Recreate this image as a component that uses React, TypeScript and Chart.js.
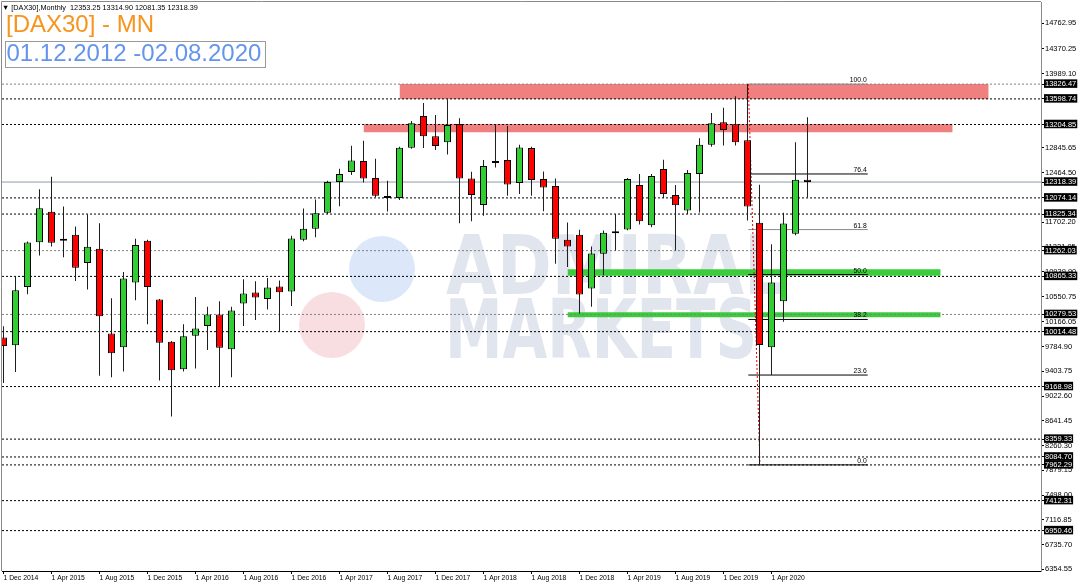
import React, { useEffect, useRef } from "react";
import { Chart, registerables } from "chart.js";

Chart.register(...registerables);

// ---- Data (monthly candles, index 0 = Dec 2014) ----
const opens = [
  9926, 9804, 10702, 11393, 11859, 11414, 11506, 11071, 11291, 9987, 9773, 10770,
  11414, 10509, 9859, 9435, 9951, 10100, 10279, 9742, 10448, 10616, 10518, 10709,
  10632, 11429, 11598, 11844, 12319, 12473, 12641, 12381, 12104, 12074, 12845, 13336,
  13025, 12933, 13214, 12374, 11966, 12611, 12657, 12304, 12841, 12365, 12258, 11430,
  11506, 10678, 11215, 11531, 11588, 12273, 11653, 12519, 12120, 11879, 12442, 12891,
  13239, 13209, 12963, 11690, 9773, 10483, 11521, 12353.25,
];
const highs = [
  10099, 10866, 11403, 12206, 12400, 11940, 11634, 11818, 11684, 10529, 10932, 11445,
  11430, 10518, 9870, 10130, 10549, 10396, 10483, 10396, 10821, 10790, 10841, 10801,
  11491, 11910, 12048, 12339, 12523, 12876, 12953, 12677, 12339, 12860, 13260, 13536,
  13352, 13592, 13301, 12477, 12657, 13209, 13183, 12891, 12860, 12482, 12374, 11695,
  11583, 11327, 11572, 11828, 12381, 12442, 12442, 12661, 12273, 12503, 12994, 13382,
  13464, 13639, 13826.47, 12278, 11359, 11844, 12933, 13314.9,
];
const lows = [
  9225, 9394, 10590, 11189, 11327, 11162, 10794, 10663, 9337, 9313, 9399, 10498,
  10130, 9261, 8708, 9399, 9445, 9731, 9168, 9313, 10100, 10192, 10356, 10023,
  10411, 11408, 11469, 11828, 11945, 12427, 12313, 12083, 11864, 12043, 12830, 12841,
  12810, 12743, 11684, 11715, 11798, 12543, 12109, 12135, 12109, 11868, 11061, 11009,
  10294, 10396, 10882, 11265, 11577, 11664, 11623, 12074, 11265, 11828, 11850, 12860,
  12881, 12881, 11725, 7962.29, 9348, 10166, 11500, 12081.35,
];
const closes = [
  9793, 10652, 11388, 11914, 11384, 11439, 11000, 11322, 10253, 9681, 10831, 11347,
  10702, 9843, 9420, 9942, 10064, 10279, 9767, 10340, 10601, 10540, 10693, 10621,
  11450, 11598, 11838, 12319, 12442, 12651, 12374, 12109, 12074, 12845, 13224, 13025,
  12872, 13198, 12374, 12120, 12564, 12641, 12282, 12850, 12350, 12236, 11445, 11327,
  10586, 11219, 11537, 11552, 12365, 11715, 12411, 12135, 11960, 12457, 12891, 13224,
  13121, 12933, 11940, 9808, 10770, 11680, 12354, 12318.39,
];

const xTickIndex = [0, 4, 8, 12, 16, 20, 24, 28, 32, 36, 40, 44, 48, 52, 56, 60, 64];
const xTickLabels = [
  "1 Dec 2014", "1 Apr 2015", "1 Aug 2015", "1 Dec 2015", "1 Apr 2016", "1 Aug 2016",
  "1 Dec 2016", "1 Apr 2017", "1 Aug 2017", "1 Dec 2017", "1 Apr 2018", "1 Aug 2018",
  "1 Dec 2018", "1 Apr 2019", "1 Aug 2019", "1 Dec 2019", "1 Apr 2020",
];

const yTickValues = [
  14762.95, 14370.25, 13989.1, 12845.65, 12464.5, 11702.2, 11321.05, 10939.9,
  10550.75, 10166.05, 9784.9, 9403.75, 9022.6, 8641.45, 8260.3, 7879.15, 7498.0,
  7116.85, 6735.7, 6354.55,
];
const priceLevels = [
  13826.47, 13598.74, 13204.85, 12074.14, 11825.34, 11262.03, 10865.33, 10279.53,
  10014.48, 9168.98, 8359.33, 8084.7, 7962.29, 7412.31, 6950.46,
];
const grayLevels = [13826.47, 11262.03, 10279.53];
const currentPrice = 12318.39;

const fibRatios = [100.0, 76.4, 61.8, 50.0, 38.2, 23.6, 0.0];
const fibHigh = 13826.47;
const fibLow = 7962.29;
const fibStartIdx = 62.07;
const fibEndIdx = 72.02;
const fibLowIdx = 63.04;

const zoneStart = [33, 30, 47, 47];
const zoneEnd = [82.1, 79.1, 78.1, 78.1];
const zoneTop = [13826.47, 13212, 10975, 10312];
const zoneBottom = [13598.74, 13085, 10874, 10235];

// ---- Axis bounds ----
const X_MIN = -0.125;
const X_MAX = 86.46;
const Y_MIN = 6328.4;
const Y_MAX = 15091;

const GREEN = "#32CD32";
const RED = "#FF0000";
const FONT = "'Liberation Sans', Arial, sans-serif";

const isPrice = (v: number) =>
  priceLevels.some((p) => Math.abs(p - v) < 0.001) || Math.abs(v - currentPrice) < 0.001;

const watermarkPlugin = {
  id: "watermark",
  beforeDatasetsDraw(chart: any) {
    const { ctx } = chart;
    ctx.save();
    ctx.fillStyle = "#DCE8F9";
    ctx.beginPath();
    ctx.arc(382, 269, 33, 0, Math.PI * 2);
    ctx.fill();
    ctx.fillStyle = "#F8DEE1";
    ctx.beginPath();
    ctx.arc(332, 325, 33, 0, Math.PI * 2);
    ctx.fill();
    ctx.fillStyle = "#E1E5EE";
    ctx.font = "bold 82px 'DejaVu Sans', sans-serif";
    ctx.textBaseline = "alphabetic";
    const drawFit = (t: string, x: number, y: number, w: number) => {
      const m = ctx.measureText(t).width;
      ctx.save();
      ctx.translate(x, y);
      ctx.scale(w / m, 1);
      ctx.fillText(t, 0, 0);
      ctx.restore();
    };
    drawFit("ADMIRAL", 446, 294, 340);
    drawFit("MARKETS", 445, 358, 312);
    ctx.restore();
  },
};

const fibLabelPlugin = {
  id: "fibLabels",
  afterDatasetsDraw(chart: any) {
    const { ctx, scales } = chart;
    ctx.save();
    ctx.font = `6.8px ${FONT}`;
    ctx.fillStyle = "#000";
    ctx.textAlign = "right";
    ctx.textBaseline = "alphabetic";
    const x = scales.x.getPixelForValue(fibEndIdx);
    fibRatios.forEach((r) => {
      const p = fibLow + ((fibHigh - fibLow) * r) / 100;
      const y = scales.y.getPixelForValue(p);
      ctx.fillText(r.toFixed(1), x - 1, y - 2);
    });
    ctx.restore();
  },
};

const framePlugin = {
  id: "frame",
  afterDraw(chart: any) {
    const { ctx, chartArea } = chart;
    ctx.save();
    ctx.strokeStyle = "#8a8a8a";
    ctx.lineWidth = 1;
    ctx.beginPath();
    ctx.moveTo(chartArea.left - 0.5, chartArea.bottom);
    ctx.lineTo(chartArea.left - 0.5, chartArea.top - 0.5);
    ctx.lineTo(chartArea.right, chartArea.top - 0.5);
    ctx.stroke();
    ctx.restore();
  },
};

export default function App() {
  const ref = useRef<HTMLCanvasElement | null>(null);

  useEffect(() => {
    document.body.style.margin = "0";
    if (!ref.current) return;

    const bodyColors = closes.map((c, i) => (c >= opens[i] ? GREEN : RED));

    const zoneSets = zoneStart.map((s, i) => ({
      type: "line",
      data: [
        { x: s, y: zoneTop[i] },
        { x: zoneEnd[i], y: zoneTop[i] },
      ],
      borderWidth: 0,
      borderColor: "rgba(0,0,0,0)",
      pointRadius: 0,
      fill: { value: zoneBottom[i] },
      backgroundColor: i < 2 ? "#F08080" : "rgb(58,204,58)",
      order: 20,
    }));

    const levelSets = priceLevels.map((v) => ({
      type: "line",
      data: [
        { x: X_MIN, y: v },
        { x: X_MAX, y: v },
      ],
      borderColor: grayLevels.includes(v) ? "#808080" : "#000",
      borderWidth: 1,
      borderDash: [2, 2],
      pointRadius: 0,
      fill: false,
      order: 15,
    }));

    const currentSet = {
      type: "line",
      data: [
        { x: X_MIN, y: currentPrice },
        { x: X_MAX, y: currentPrice },
      ],
      borderColor: "#8C9AAB",
      borderWidth: 1,
      pointRadius: 0,
      fill: false,
      order: 14,
    };

    const fibSets = fibRatios.map((r) => {
      const p = fibLow + ((fibHigh - fibLow) * r) / 100;
      return {
        type: "line",
        data: [
          { x: fibStartIdx, y: p },
          { x: fibEndIdx, y: p },
        ],
        borderColor: r === 100 || r === 61.8 ? "#8a8a8a" : "#000",
        borderWidth: 1,
        pointRadius: 0,
        fill: false,
        order: 12,
      };
    });

    const trendSet = {
      type: "line",
      data: [
        { x: fibStartIdx, y: fibHigh },
        { x: fibLowIdx, y: fibLow },
      ],
      borderColor: "#E00000",
      borderWidth: 1,
      borderDash: [2, 2],
      pointRadius: 0,
      fill: false,
      order: 11,
    };

    const wickSet = {
      type: "bar",
      data: highs.map((h, i) => ({ x: i, y: [lows[i], h] })),
      backgroundColor: "#1e1e1e",
      borderWidth: 0,
      grouped: false,
      maxBarThickness: 1,
      order: 2,
    };

    const bodySet = {
      type: "bar",
      data: opens.map((o, i) => ({ x: i, y: [o, closes[i]] })),
      backgroundColor: bodyColors,
      borderColor: "#000",
      borderWidth: 1,
      borderSkipped: false,
      grouped: false,
      maxBarThickness: 7,
      minBarLength: 2,
      order: 1,
    };

    const chart = new Chart(ref.current, {
      type: "bar",
      data: {
        datasets: [
          ...zoneSets,
          ...levelSets,
          currentSet,
          ...fibSets,
          trendSet,
          wickSet,
          bodySet,
        ] as any,
      },
      options: {
        animation: false,
        responsive: false,
        events: [],
        layout: { padding: { left: 2, top: 2, right: 0, bottom: 0 } },
        plugins: {
          legend: { display: false },
          tooltip: { enabled: false },
        },
        scales: {
          x: {
            type: "linear",
            position: "bottom",
            min: X_MIN,
            max: X_MAX,
            offset: false,
            grid: { display: true, offset: false, drawOnChartArea: false, drawTicks: true, tickLength: 3, tickColor: "#000" },
            border: { display: true, color: "#000", width: 1 },
            afterBuildTicks: (scale: any) => {
              scale.ticks = xTickIndex.map((v) => ({ value: v }));
            },
            afterFit: (scale: any) => {
              scale.height = 16;
              scale.paddingLeft = 0;
              scale.paddingRight = 0;
            },
            ticks: {
              autoSkip: false,
              maxRotation: 0,
              minRotation: 0,
              align: "start",
              padding: 1,
              color: "#000",
              font: { family: FONT, size: 6.8, lineHeight: 1 },
              callback: (v: any) => {
                const k = xTickIndex.indexOf(Number(v));
                return k >= 0 ? xTickLabels[k] : "";
              },
            },
          },
          y: {
            type: "linear",
            position: "right",
            min: Y_MIN,
            max: Y_MAX,
            stacked: false,
            beginAtZero: false,
            grid: { display: true, drawOnChartArea: false, drawTicks: true, tickLength: 3, tickColor: "#000" },
            border: { display: true, color: "#8a8a8a", width: 1 },
            afterBuildTicks: (scale: any) => {
              scale.ticks = [...yTickValues, ...priceLevels, currentPrice].map((v) => ({ value: v }));
            },
            afterFit: (scale: any) => {
              scale.width = 39;
              scale.paddingTop = 0;
              scale.paddingBottom = 0;
            },
            ticks: {
              autoSkip: false,
              padding: 1,
              font: { family: FONT, size: 7.5, lineHeight: 1 },
              color: (c: any) => (c.tick && isPrice(c.tick.value) ? "#fff" : "#000"),
              showLabelBackdrop: true,
              backdropColor: (c: any) => (c.tick && isPrice(c.tick.value) ? "#000" : "rgba(0,0,0,0)"),
              backdropPadding: { top: 1, bottom: 0, left: 1, right: 1 },
              callback: (v: any) => Number(v).toFixed(2),
            },
          },
        },
      } as any,
      plugins: [watermarkPlugin, fibLabelPlugin, framePlugin],
    });

    return () => chart.destroy();
  }, []);

  return (
    <div style={{ position: "relative", width: 1080, height: 587, background: "#fff", overflow: "hidden" }}>
      <style>{`body{margin:0}`}</style>
      <canvas ref={ref} width={1080} height={587} style={{ display: "block", width: 1080, height: 587 }} />
      <div
        style={{
          position: "absolute",
          left: 2,
          top: 4,
          fontFamily: FONT,
          fontSize: 7.3,
          lineHeight: "8px",
          color: "#000",
          whiteSpace: "pre",
        }}
      >
        {"\u25BC [DAX30],Monthly  12353.25 13314.90 12081.35 12318.39"}
      </div>
      <div
        style={{
          position: "absolute",
          left: 6,
          top: 11.5,
          fontFamily: FONT,
          fontSize: 24,
          lineHeight: "24px",
          color: "#F7941D",
          whiteSpace: "pre",
        }}
      >
        [DAX30] - MN
      </div>
      <div
        style={{
          position: "absolute",
          left: 4.5,
          top: 41,
          width: 261,
          height: 27,
          border: "1px solid #9a9a9a",
          boxSizing: "border-box",
        }}
      />
      <div
        style={{
          position: "absolute",
          left: 6.5,
          top: 40.5,
          fontFamily: FONT,
          fontSize: 24,
          lineHeight: "24px",
          color: "#6495ED",
          whiteSpace: "pre",
        }}
      >
        01.12.2012 -02.08.2020
      </div>
    </div>
  );
}
